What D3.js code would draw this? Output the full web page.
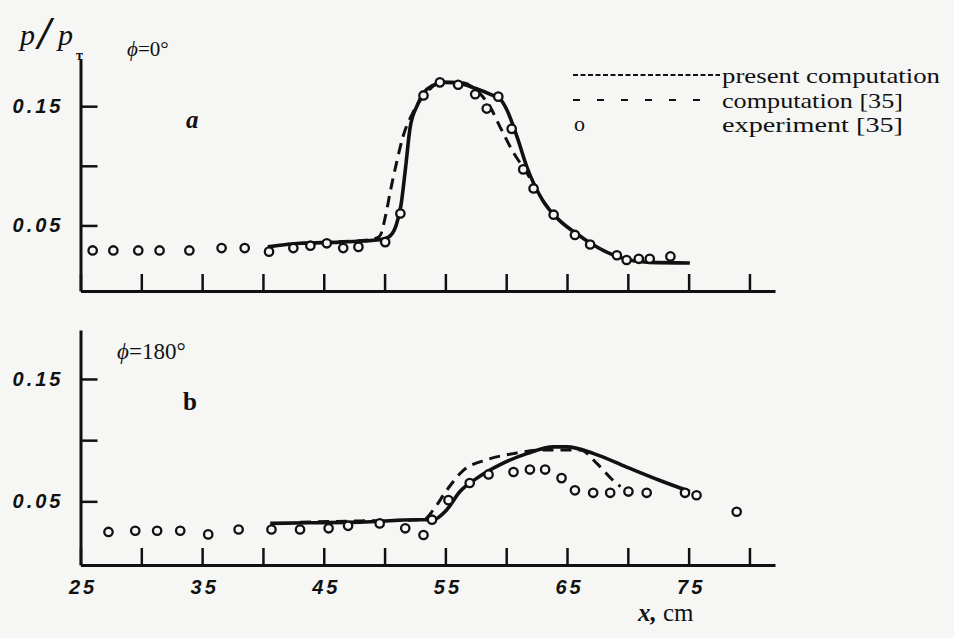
<!DOCTYPE html>
<html>
<head>
<meta charset="utf-8">
<script src="https://cdn.jsdelivr.net/npm/d3@7"></script>
<style>
  html, body { margin: 0; padding: 0; background: #f6f6f4; }
  svg { display: block; }
  .num { font-family: "Liberation Sans", sans-serif; font-style: italic; font-weight: bold; font-size: 20px; letter-spacing: 3px; fill: #111; }
  .serif { font-family: "Liberation Serif", serif; fill: #111; }
</style>
</head>
<body>
<div id="chart"></div>
<script>

// x positions of the ticks (cm) and which ones get a label
var xTicks = [25, 30, 35, 40, 45, 50, 55, 60, 65, 70, 75, 80];
var xTickLabels = [25, 35, 45, 55, 65, 75];
var yTicks = [0.05, 0.10, 0.15];
var yTickLabels = [0.05, 0.15];

// panel a, phi = 0 deg : [x cm, p/pT]
var expA = [[26.0, 0.029], [27.7, 0.029], [29.75, 0.029], [31.5, 0.029], [33.95, 0.029],
   [36.6, 0.031], [38.5, 0.031], [40.5, 0.028], [42.5, 0.031], [43.9, 0.033], [45.25, 0.035],
   [46.6, 0.031], [47.85, 0.032], [50.05, 0.036], [51.3, 0.060], [53.2, 0.159], [54.55, 0.170],
   [56.05, 0.168], [57.45, 0.160], [58.4, 0.148], [59.35, 0.158], [60.45, 0.131], [61.4, 0.097],
   [62.25, 0.081], [63.9, 0.059], [65.65, 0.042], [66.9, 0.034], [69.1, 0.025], [69.9, 0.021],
   [70.9, 0.022], [71.8, 0.022], [73.5, 0.024]];
var solidA = [[40.4, 0.032], [43.05, 0.035], [46.3, 0.036], [49.6, 0.038], [50.3, 0.040],
   [50.95, 0.050], [51.35, 0.067], [51.7, 0.096], [52.1, 0.132], [52.7, 0.151], [53.2, 0.161],
   [53.9, 0.167], [55.0, 0.170], [56.2, 0.169], [57.45, 0.165], [58.9, 0.159], [59.5, 0.156],
   [60.05, 0.147], [60.9, 0.124], [61.7, 0.099], [63.0, 0.071], [64.4, 0.054], [65.8, 0.043],
   [67.1, 0.034], [69.4, 0.023], [71.8, 0.019], [75.1, 0.0185]];
var dashA = [[41.8, 0.034], [45.5, 0.036], [48.8, 0.038], [49.6, 0.041], [50.1, 0.059],
   [50.5, 0.080], [50.95, 0.101], [51.5, 0.124], [52.3, 0.144], [53.5, 0.162], [54.6, 0.170],
   [56.2, 0.170], [57.7, 0.162], [58.7, 0.149], [59.5, 0.1325], [60.6, 0.111], [61.7, 0.094],
   [63.0, 0.071], [64.4, 0.054]];

// panel b, phi = 180 deg
var expB = [[27.3, 0.025], [29.5, 0.026], [31.3, 0.026], [33.2, 0.026], [35.5, 0.023],
   [38.0, 0.027], [40.7, 0.027], [43.05, 0.027], [45.4, 0.028], [47.0, 0.030], [49.6, 0.032],
   [51.7, 0.028], [53.2, 0.0225], [53.9, 0.035], [55.25, 0.051], [57.0, 0.065], [58.55, 0.072],
   [60.6, 0.074], [61.95, 0.076], [63.2, 0.076], [64.55, 0.069], [65.65, 0.059], [67.15, 0.057],
   [68.55, 0.057], [70.05, 0.058], [71.55, 0.057], [74.7, 0.057], [75.65, 0.055], [78.95, 0.0415]];
var solidB = [[40.6, 0.032], [43.9, 0.0325], [48.0, 0.033], [52.65, 0.035], [54.0, 0.035],
   [55.1, 0.043], [56.2, 0.058], [57.6, 0.069], [59.5, 0.080], [61.7, 0.089], [63.9, 0.0945],
   [65.0, 0.0945], [67.2, 0.089], [69.9, 0.078], [72.65, 0.067], [75.1, 0.058]];
var dashB = [[43.05, 0.033], [48.0, 0.034], [53.2, 0.035], [54.0, 0.043], [55.1, 0.059],
   [56.5, 0.0755], [58.4, 0.084], [60.6, 0.089], [63.05, 0.092], [66.1, 0.092], [67.45, 0.081],
   [68.8, 0.067], [69.4, 0.062]];

var legendItems = ["present computation", "computation [35]", "experiment [35]"];

function drawChart() {

   var width = 954;
   var height = 638;
   var ink = "#111";

   var svg = d3.select("#chart")
      .append("svg")
      .attr("width", width)
      .attr("height", height);

   svg.append("rect")
      .attr("width", width)
      .attr("height", height)
      .attr("fill", "#f6f6f4");

   var x = d3.scaleLinear().domain([25, 82.1]).range([80.5, 775]);

   var panels = [
      {exp: expA, solid: solidA, dash: dashA, last: false,
       y: d3.scaleLinear().domain([-0.005, 0.19]).range([291, 58.5])},
      {exp: expB, solid: solidB, dash: dashB, last: true,
       y: d3.scaleLinear().domain([-0.002, 0.19]).range([565, 330])}
   ];

   panels.forEach(function(p) {
      var g = svg.append("g");
      var y = p.y;

      var xAxis = d3.axisBottom(x)
         .tickValues(xTicks)
         .tickSizeInner(-17)
         .tickSizeOuter(0)
         .tickPadding(15)
         .tickFormat(function(d) {
            return p.last && xTickLabels.indexOf(d) >= 0 ? d : "";
         });

      var yAxis = d3.axisLeft(y)
         .tickValues(yTicks)
         .tickSizeInner(-17)
         .tickSizeOuter(0)
         .tickPadding(17)
         .tickFormat(function(d) {
            return yTickLabels.indexOf(d) >= 0 ? d3.format(".2f")(d) : "";
         });

      var gx = g.append("g")
         .attr("transform", "translate(0," + y.range()[0] + ")")
         .call(xAxis);
      var gy = g.append("g")
         .attr("transform", "translate(" + x(25) + ",0)")
         .call(yAxis);

      [gx, gy].forEach(function(a) {
         a.select(".domain").attr("stroke", ink).attr("stroke-width", 3);
         a.selectAll(".tick line").attr("stroke", ink).attr("stroke-width", 2.5);
         a.selectAll(".tick text")
            .attr("class", "num")
            .attr("fill", ink)
            .attr("font-family", null)
            .attr("font-size", null);
      });
      gx.selectAll(".tick text").attr("dx", "0.1em");

      var line = d3.line()
         .x(function(d) {return x(d[0])})
         .y(function(d) {return y(d[1])})
         .curve(d3.curveMonotoneX);

      g.append("path")
         .datum(p.dash)
         .attr("d", line)
         .attr("fill", "none")
         .attr("stroke", ink)
         .attr("stroke-width", 3)
         .attr("stroke-dasharray", "11,7");

      g.append("path")
         .datum(p.solid)
         .attr("d", line)
         .attr("fill", "none")
         .attr("stroke", ink)
         .attr("stroke-width", 3.6)
         .attr("stroke-linejoin", "round");

      g.selectAll(".exp")
         .data(p.exp)
         .enter().append("circle")
         .attr("class", "exp")
         .attr("cx", function(d) {return x(d[0])})
         .attr("cy", function(d) {return y(d[1])})
         .attr("r", 4.2)
         .attr("fill", "#f6f6f4")
         .attr("stroke", ink)
         .attr("stroke-width", 2.3);
   });

   // y label p/p_T
   var yl = svg.append("g").attr("class", "serif");
   yl.append("text").attr("x", 20).attr("y", 45)
      .attr("font-size", 30).attr("font-style", "italic").text("p");
   yl.append("text").attr("x", 38).attr("y", 49)
      .attr("font-size", 46).attr("font-style", "italic").attr("font-weight", "bold").text("/");
   yl.append("text").attr("x", 58).attr("y", 45)
      .attr("font-size", 30).attr("font-style", "italic").text("p");
   yl.append("text").attr("x", 76).attr("y", 60)
      .attr("font-size", 14).attr("font-weight", "bold").text("т");

   // panel annotations
   svg.append("text").attr("class", "serif").attr("x", 127).attr("y", 56)
      .attr("font-size", 21)
      .html('<tspan font-style="italic">ϕ</tspan>=0°');
   svg.append("text").attr("class", "serif").attr("x", 186).attr("y", 128)
      .attr("font-size", 25).attr("font-style", "italic").attr("font-weight", "bold").text("a");
   svg.append("text").attr("class", "serif").attr("x", 117).attr("y", 359)
      .attr("font-size", 23)
      .html('<tspan font-style="italic">ϕ</tspan>=180°');
   svg.append("text").attr("class", "serif").attr("x", 183).attr("y", 410)
      .attr("font-size", 25).attr("font-weight", "bold").text("b");

   // x axis title
   svg.append("text").attr("class", "serif").attr("x", 638).attr("y", 621)
      .attr("font-size", 25)
      .html('<tspan font-style="italic" font-weight="bold">x,</tspan> cm');

   // legend
   var leg = svg.append("g").attr("class", "serif");
   leg.append("line")
      .attr("x1", 573).attr("x2", 720).attr("y1", 75).attr("y2", 75)
      .attr("stroke", ink).attr("stroke-width", 1.8).attr("stroke-dasharray", "5,2.5");
   leg.append("line")
      .attr("x1", 573).attr("x2", 700).attr("y1", 100).attr("y2", 100)
      .attr("stroke", ink).attr("stroke-width", 2).attr("stroke-dasharray", "7,17");
   leg.append("text").attr("x", 574).attr("y", 131).attr("font-size", 22).text("o");
   leg.selectAll(".lt")
      .data(legendItems)
      .enter().append("text")
      .attr("class", "lt")
      .attr("x", 722)
      .attr("y", function(d, i) {return 83 + i * 24.5})
      .attr("font-size", 22)
      .attr("textLength", function(d, i) {return i === 0 ? 218 : 181})
      .attr("lengthAdjust", "spacingAndGlyphs")
      .text(function(d) {return d});
}

drawChart();
</script>
</body>
</html>
